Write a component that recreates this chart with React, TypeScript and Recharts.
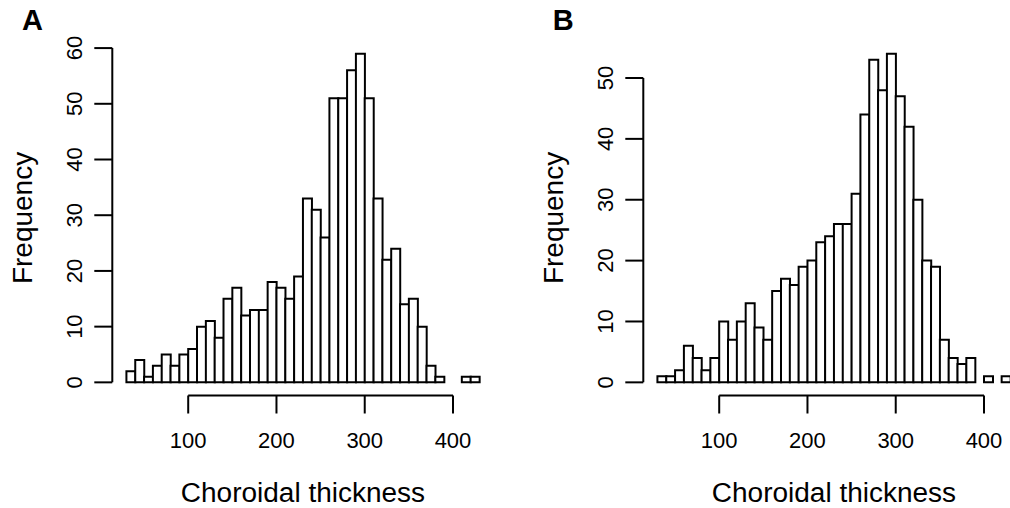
import { Bar, BarChart, Label, ReferenceLine, XAxis, YAxis } from "recharts";

// histogram breaks (choroidal thickness, µm)
const breaks = [
  30, 40, 50, 60, 70, 80, 90, 100, 110, 120, 130, 140, 150, 160, 170, 180, 190, 200, 210, 220,
  230, 240, 250, 260, 270, 280, 290, 300, 310, 320, 330, 340, 350, 360, 370, 380, 390, 400, 410,
  420, 430,
];

const countsA = [
  2, 4, 1, 3, 5, 3, 5, 6, 10, 11, 8, 15, 17, 12, 13, 13, 18, 17, 15, 19,
  33, 31, 26, 51, 51, 56, 59, 51, 33, 22, 24, 14, 15, 10, 3, 1, 0, 0, 1, 1,
];

const countsB = [
  1, 1, 2, 6, 4, 2, 4, 10, 7, 10, 13, 9, 7, 15, 17, 16, 19, 20, 23, 24,
  26, 26, 31, 44, 53, 48, 54, 47, 42, 30, 20, 19, 7, 4, 3, 4, 0, 1, 0, 1,
];

const xTicks = [100, 200, 300, 400];
const yTicksA = [0, 10, 20, 30, 40, 50, 60];
const yTicksB = [0, 10, 20, 30, 40, 50];

const FONT = '"Liberation Sans", Arial, Helvetica, sans-serif';
const PLOT_TOP = 40.5;
const PLOT_H = 355;
const AXIS_W = 112.3;
const PLOT_W = 381.3;
const TICK = 18;

const toRows = (counts: number[]) =>
  counts.map((n, i) => ({ mid: (breaks[i] + breaks[i + 1]) / 2, n }));

const XTick = ({ x, y, payload }: any) => (
  <text x={x} y={y + 35} textAnchor="middle" fontSize={22} fontFamily={FONT} fill="#000">
    {payload.value}
  </text>
);

const YTick = ({ x, y, payload }: any) => (
  <text
    x={x - 12}
    y={y}
    transform={`rotate(-90 ${x - 12} ${y})`}
    textAnchor="middle"
    fontSize={22}
    fontFamily={FONT}
    fill="#000"
  >
    {payload.value}
  </text>
);

function Panel({ counts, yTicks, letter, left }: { counts: number[]; yTicks: number[]; letter: string; left: number }) {
  const span = breaks[breaks.length - 1] - breaks[0];
  const xMin = breaks[0] - 0.04 * span;
  const xMax = breaks[breaks.length - 1] + 0.04 * span;
  const top = Math.max(...counts);
  const yMin = -0.04 * top;
  const yMax = top * 1.04;
  const yLast = yTicks[yTicks.length - 1];

  return (
    <div style={{ position: "absolute", left, top: 0 }}>
      <BarChart
        width={AXIS_W + PLOT_W}
        height={508}
        data={toRows(counts)}
        margin={{ top: PLOT_TOP, right: 0, bottom: 0, left: 0 }}
        barCategoryGap={0}
        barGap={0}
      >
        <XAxis
          dataKey="mid"
          type="number"
          domain={[xMin, xMax]}
          ticks={xTicks}
          allowDataOverflow
          height={508 - PLOT_TOP - PLOT_H}
          axisLine={false}
          tickLine={{ stroke: "#000", strokeWidth: 2 }}
          tickSize={TICK}
          tickMargin={0}
          tick={<XTick />}
          interval={0}
        >
          <Label
            content={() => (
              <text
                x={AXIS_W + PLOT_W / 2}
                y={501.7}
                textAnchor="middle"
                fontSize={28}
                fontFamily={FONT}
                fill="#000"
              >
                Choroidal thickness
              </text>
            )}
          />
        </XAxis>
        <YAxis
          type="number"
          domain={[yMin, yMax]}
          ticks={yTicks}
          allowDataOverflow
          width={AXIS_W}
          axisLine={false}
          tickLine={{ stroke: "#000", strokeWidth: 2 }}
          tickSize={TICK}
          tickMargin={0}
          tick={<YTick />}
          interval={0}
        >
          <Label
            content={() => {
              const cx = AXIS_W - 80;
              const cy = PLOT_TOP + PLOT_H / 2;
              return (
                <text
                  x={cx}
                  y={cy}
                  transform={`rotate(-90 ${cx} ${cy})`}
                  textAnchor="middle"
                  fontSize={28}
                  fontFamily={FONT}
                  fill="#000"
                >
                  Frequency
                </text>
              );
            }}
          />
        </YAxis>
        <Bar dataKey="n" fill="#fff" stroke="#000" strokeWidth={2} isAnimationActive={false} />
        <ReferenceLine
          segment={[
            { x: xTicks[0], y: yMin },
            { x: xTicks[xTicks.length - 1], y: yMin },
          ]}
          stroke="#000"
          strokeWidth={2}
        />
        <ReferenceLine
          segment={[
            { x: xMin, y: 0 },
            { x: xMin, y: yLast },
          ]}
          stroke="#000"
          strokeWidth={2}
        />
      </BarChart>
      <div
        style={{
          position: "absolute",
          left: 22,
          top: 6,
          fontFamily: FONT,
          fontWeight: "bold",
          fontSize: 29,
          lineHeight: "29px",
        }}
      >
        {letter}
      </div>
    </div>
  );
}

export default function App() {
  return (
    <div
      style={{
        position: "absolute",
        left: 0,
        top: 0,
        width: 1010,
        height: 508,
        overflow: "hidden",
        background: "#fff",
      }}
    >
      <Panel counts={countsA} yTicks={yTicksA} letter="A" left={0} />
      <Panel counts={countsB} yTicks={yTicksB} letter="B" left={643 - AXIS_W} />
    </div>
  );
}
